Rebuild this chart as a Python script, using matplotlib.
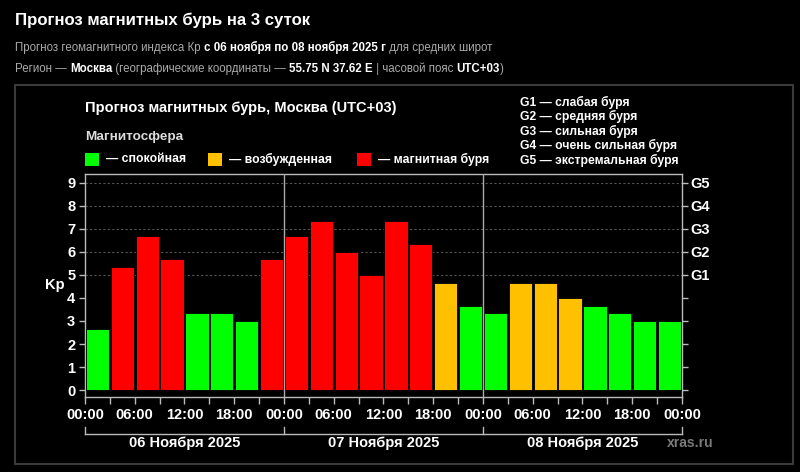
import matplotlib
matplotlib.use("Agg")
import matplotlib.pyplot as plt
from matplotlib.patches import Rectangle
import matplotlib.transforms as mtransforms
from matplotlib.text import Annotation

plt.rcParams['font.family'] = ['Liberation Sans', 'DejaVu Sans']

# ---- data ----
kp_values = [2.67, 5.33, 6.67, 5.67, 3.33, 3.33, 3.00, 5.67,
             6.67, 7.33, 6.00, 5.00, 7.33, 6.33, 4.67, 3.67,
             3.33, 4.67, 4.67, 4.00, 3.67, 3.33, 3.00, 3.00]
hour_labels = ["00:00", "06:00", "12:00", "18:00"] * 3 + ["00:00"]
day_labels = ["06 Ноября 2025", "07 Ноября 2025", "08 Ноября 2025"]
g_labels = ["G1", "G2", "G3", "G4", "G5"]
g_legend = ["G1 — слабая буря", "G2 — средняя буря", "G3 — сильная буря",
            "G4 — очень сильная буря", "G5 — экстремальная буря"]
state_names = ["— спокойная", "— возбужденная", "— магнитная буря"]

GREEN, ORANGE, RED = "#00ff00", "#ffc000", "#ff0000"


def color_for(v):
    if v >= 5:
        return RED
    if v >= 4:
        return ORANGE
    return GREEN


W, H = 800, 472
fig = plt.figure(figsize=(8, 4.72), dpi=100, facecolor="black")


def fx(px):
    return px / W


def fy(py):
    return 1 - py / H


fig.text(fx(15), fy(20), "Прогноз магнитных бурь на 3 суток", color="white",
         fontsize=12.1, fontweight="bold", va="center", ha="left")

GRAY_T = "#aaaaaa"


def rich_text(x, y, pieces, size):
    prev = None
    for txt, bold, col in pieces:
        kw = dict(fontsize=size, color=col,
                  fontweight="bold" if bold else "normal", va="bottom", ha="left")
        if prev is None:
            prev = fig.text(x, y, txt, **kw)
        else:
            prev = fig.add_artist(Annotation(
                txt, xy=(1, 0), xycoords=prev, xytext=(0, 0),
                textcoords="offset points", annotation_clip=False, **kw))


rich_text(fx(15), fy(54), [
    ("Прогноз геомагнитного индекса Кр ", False, GRAY_T),
    ("с 06 ноября по 08 ноября 2025 г", True, "white"),
    (" для средних широт", False, GRAY_T)], 8.3)
rich_text(fx(15), fy(75), [
    ("Регион — ", False, GRAY_T),
    ("Москва", True, "white"),
    (" (географические координаты — ", False, GRAY_T),
    ("55.75 N 37.62 E", True, "white"),
    (" | часовой пояс ", False, GRAY_T),
    ("UTC+03", True, "white"),
    (")", False, GRAY_T)], 8.3)

# ---- panel border ----
fig.add_artist(Rectangle((fx(15), fy(464)), fx(778), 379 / H,
                         transform=fig.transFigure, fill=False,
                         edgecolor="#3a3a3a", lw=1.5))

# ---- inner titles and legends ----
fig.text(fx(85), fy(108), "Прогноз магнитных бурь, Москва (UTC+03)", color="white",
         fontsize=10.5, fontweight="bold", va="center", ha="left")
fig.text(fx(85), fy(137), "Магнитосфера", color="#dddddd",
         fontsize=9.7, fontweight="bold", va="center", ha="left")

sq_x = [85, 208, 357]
for x0, c, name in zip(sq_x, [GREEN, ORANGE, RED], state_names):
    fig.add_artist(Rectangle((fx(x0), fy(166)), fx(14), 13 / H,
                             transform=fig.transFigure, facecolor=c,
                             edgecolor="none"))
    fig.text(fx(x0 + 21), fy(159.5), name, color="white", fontsize=8.8,
             fontweight="bold", va="center", ha="left")

for i, s in enumerate(g_legend):
    fig.text(fx(520), fy(102 + i * 14.5), s, color="white", fontsize=8.7,
             fontweight="bold", va="center", ha="left")

# ---- main axes ----
ax = fig.add_axes([fx(85), fy(397), fx(682 - 85), (397 - 174) / H])
ax.set_facecolor("black")
x = [1.5 + 3 * i for i in range(len(kp_values))]
ax.bar(x, kp_values, width=2.8, color=[color_for(v) for v in kp_values],
       edgecolor="black", linewidth=0.6, zorder=3)
ax.set_xlim(0, 72)
ax.set_ylim(-0.3, 9.38)

for lvl in range(5, 10):
    ax.axhline(lvl, color="#555555", lw=0.8, ls=(0, (2, 2)), zorder=1)
for d in (24, 48):
    ax.axvline(d, color="#aaaaaa", lw=1, zorder=4)

SP = "#bbbbbb"
for s in ["left", "right", "top", "bottom"]:
    ax.spines[s].set_color(SP)
    ax.spines[s].set_linewidth(1)

ax.set_yticks(range(10))
ax.set_yticklabels([str(i) for i in range(10)])
ax.set_xticks(range(0, 73, 6))
ax.set_xticklabels(hour_labels)
ax.set_xticks(range(3, 72, 6), minor=True)
ax.tick_params(axis="both", which="both", colors=SP, length=5, width=1,
               direction="out")
ax.tick_params(axis="x", which="major", pad=3)
ax.tick_params(axis="y", length=4, pad=3)
for lab in ax.get_xticklabels() + ax.get_yticklabels():
    lab.set_color("white")
    lab.set_fontweight("bold")
    lab.set_fontsize(10.5)

ax2 = ax.twinx()
ax2.set_ylim(ax.get_ylim())
ax2.set_yticks(range(10))
ax2.set_yticklabels([""] * 5 + g_labels)
ax2.tick_params(axis="y", colors=SP, length=4, width=1, pad=2)
for lab in ax2.get_yticklabels():
    lab.set_color("white")
    lab.set_fontweight("bold")
    lab.set_fontsize(10.5)
for s in ax2.spines.values():
    s.set_visible(False)

ax.text(fx(55), fy(285), "Kp", transform=fig.transFigure, color="white",
        fontsize=10.5, fontweight="bold", ha="center", va="center")

# ---- day brackets ----
tr = mtransforms.blended_transform_factory(ax.transData, ax.transAxes)
yb_top = (397 - 427) / 223
yb = (397 - 434) / 223
ax.plot([0, 72], [yb, yb], color=SP, lw=1, transform=tr, clip_on=False)
for d in (0, 24, 48, 72):
    ax.plot([d, d], [yb, yb_top], color=SP, lw=1, transform=tr, clip_on=False)
for i, lab in enumerate(day_labels):
    ax.text(12 + 24 * i, (397 - 443) / 223, lab, transform=tr, color="white",
            fontsize=10.5, fontweight="bold", ha="center", va="center")

fig.text(fx(690), fy(443), "xras.ru", color="#7a7a7a", fontsize=10,
         fontweight="bold", ha="center", va="center")

fig.savefig("out.png", dpi=100, facecolor="black")
